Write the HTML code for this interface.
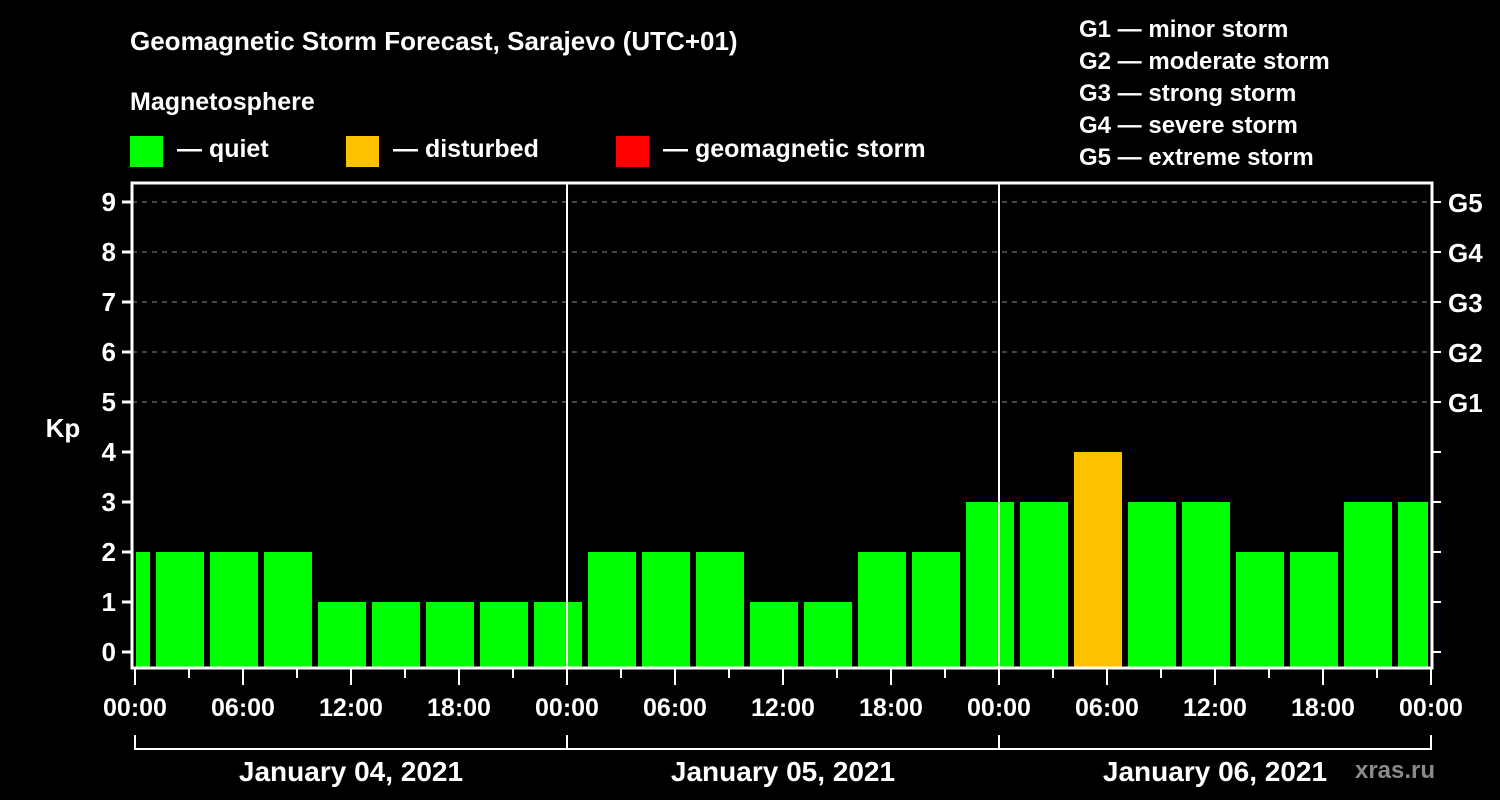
<!DOCTYPE html>
<html><head><meta charset="utf-8"><style>
body{margin:0;background:#000;width:1500px;height:800px;overflow:hidden}
svg{display:block}
text{font-family:"Liberation Sans",sans-serif;font-weight:bold;fill:#fff}
</style></head><body>
<svg id="chart" width="1500" height="800" xmlns="http://www.w3.org/2000/svg">
<text x="130" y="50" font-size="26">Geomagnetic Storm Forecast, Sarajevo (UTC+01)</text>
<text x="130" y="110" font-size="25">Magnetosphere</text>
<g><rect x="130" y="136" width="33" height="31" fill="#00ff00"/><text x="177" y="157" font-size="25">— quiet</text></g>
<g><rect x="346" y="136" width="33" height="31" fill="#ffc000"/><text x="393" y="157" font-size="25">— disturbed</text></g>
<g><rect x="616" y="136" width="33" height="31" fill="#ff0000"/><text x="663" y="157" font-size="25">— geomagnetic storm</text></g>
<g font-size="24">
<text x="1079" y="37">G1 — minor storm</text>
<text x="1079" y="69">G2 — moderate storm</text>
<text x="1079" y="101">G3 — strong storm</text>
<text x="1079" y="133">G4 — severe storm</text>
<text x="1079" y="165">G5 — extreme storm</text>
</g>
<text x="63" y="437" font-size="26" text-anchor="middle">Kp</text>
<g id="grid"></g><g id="bars"></g><g id="axes"></g>
<text x="1395" y="778" font-size="24" fill="#888" style="fill:#8a8a8a" text-anchor="middle">xras.ru</text>
</svg>
<script>
const kpValues=[2,2,2,2,1,1,1,1,1,2,2,2,1,1,2,2,3,3,4,3,3,2,2,3,3];
const dayLabels=["January 04, 2021","January 05, 2021","January 06, 2021"];
const hourLabels=["00:00","06:00","12:00","18:00"];
const gLabels=["G1","G2","G3","G4","G5"];
const NS="http://www.w3.org/2000/svg";
const L=132,R=1432,T=183,B=668;
const X=h=>135+h*18; const Y=v=>652-v*50;
function mk(p,t,a){const e=document.createElementNS(NS,t);for(const k in a)e.setAttribute(k,a[k]);p.appendChild(e);return e;}
const grid=document.getElementById('grid'),bars=document.getElementById('bars'),ax=document.getElementById('axes');
for(let v=5;v<=9;v++){const l=mk(grid,'line',{x1:L,x2:R,y1:Y(v),y2:Y(v),stroke:'#888','stroke-dasharray':'5,5','stroke-width':1});

}
kpValues.forEach((v,i)=>{
 let x0=X(3*i-2)+3,x1=X(3*i+1)-3;x0=Math.max(x0,L+4);x1=Math.min(x1,X(72)-3);
 const c=v>=5?'#ff0000':(v>=4?'#ffc000':'#00ff00');
 const r=mk(bars,'rect',{x:x0,y:Y(v),width:x1-x0,height:B-Y(v),fill:c});
 
 
});
mk(ax,'rect',{x:L,y:T,width:R-L,height:B-T,fill:'none',stroke:'#fff','stroke-width':3});
for(let d=1;d<3;d++)mk(ax,'line',{x1:X(24*d),x2:X(24*d),y1:T,y2:B,stroke:'#fff','stroke-width':2});
for(let v=0;v<=9;v++){
 mk(ax,'line',{x1:122,x2:L,y1:Y(v),y2:Y(v),stroke:'#fff','stroke-width':3});
 mk(ax,'line',{x1:R,x2:1441,y1:Y(v),y2:Y(v),stroke:'#fff','stroke-width':2});
 const t=mk(ax,'text',{x:116,y:Y(v)+9,'font-size':26,'text-anchor':'end'});t.textContent=v;
 
 
 if(v>=5){const g=mk(ax,'text',{x:1448,y:Y(v)+10,'font-size':26});g.textContent=gLabels[v-5];
 
 }
}
for(let h=0;h<=72;h+=3){
 const major=h%6==0;
 mk(ax,'line',{x1:X(h),x2:X(h),y1:B,y2:major?685:678,stroke:'#fff','stroke-width':2});
 if(major){const t=mk(ax,'text',{x:X(h),y:716,'font-size':25,'text-anchor':'middle'});t.textContent=hourLabels[(h%24)/6];
 
 }
}
mk(ax,'line',{x1:X(0),x2:X(72),y1:749,y2:749,stroke:'#fff','stroke-width':2});
for(let d=0;d<=3;d++)mk(ax,'line',{x1:X(24*d),x2:X(24*d),y1:735,y2:750,stroke:'#fff','stroke-width':2});
dayLabels.forEach((s,d)=>{const t=mk(ax,'text',{x:X(24*d+12),y:781,'font-size':28,'text-anchor':'middle'});t.textContent=s;

});
</script>
</body></html>
